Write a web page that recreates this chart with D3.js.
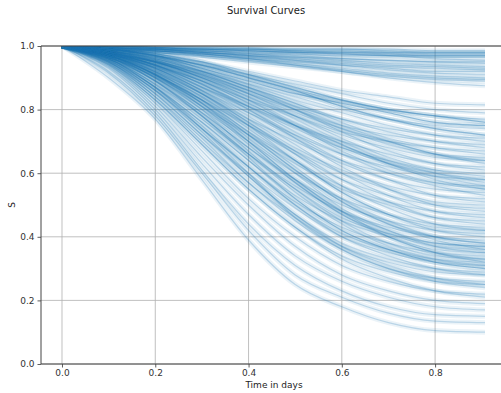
<!DOCTYPE html>
<html>
<head>
<meta charset="utf-8">
<script src="https://cdn.jsdelivr.net/npm/d3@7"></script>
<style>
  html, body { margin: 0; padding: 0; background: #fff; }
  svg { display: block; font-family: "DejaVu Sans", sans-serif; }
</style>
</head>
<body>
<svg id="chart" width="501" height="393"></svg>
<script>
// ---- data ----
const times = [0, 0.1, 0.2, 0.3, 0.4, 0.5, 0.6, 0.7, 0.8, 0.907];
const xTicks = [0.0, 0.2, 0.4, 0.6, 0.8];
const yTicks = [0.0, 0.2, 0.4, 0.6, 0.8, 1.0];

// upper cluster: curves that stay near 1
const curvesHigh = [
  [1, 1, 1, 1, 0.995, 0.99, 0.99, 0.985, 0.98, 0.98],
  [1, 1, 0.995, 0.99, 0.99, 0.985, 0.98, 0.98, 0.975, 0.975],
  [1, 0.995, 0.99, 0.985, 0.98, 0.975, 0.97, 0.97, 0.965, 0.965],
  [1, 1, 0.995, 0.99, 0.985, 0.98, 0.975, 0.97, 0.96, 0.955],
  [1, 0.995, 0.99, 0.98, 0.975, 0.97, 0.96, 0.955, 0.95, 0.945],
  [1, 1, 0.99, 0.985, 0.975, 0.965, 0.955, 0.945, 0.94, 0.935],
  [1, 0.995, 0.985, 0.975, 0.965, 0.955, 0.945, 0.935, 0.93, 0.925],
  [1, 0.995, 0.99, 0.98, 0.97, 0.955, 0.94, 0.925, 0.915, 0.91],
  [1, 0.99, 0.985, 0.975, 0.96, 0.945, 0.93, 0.915, 0.905, 0.9],
  [1, 0.995, 0.985, 0.97, 0.955, 0.94, 0.925, 0.91, 0.9, 0.895],
  [1, 1, 0.995, 0.99, 0.985, 0.98, 0.975, 0.97, 0.97, 0.97],
  [1, 0.995, 0.99, 0.98, 0.97, 0.96, 0.95, 0.94, 0.935, 0.93],
  [1, 0.99, 0.98, 0.965, 0.95, 0.935, 0.92, 0.905, 0.895, 0.89],
  [1, 1, 0.995, 0.99, 0.99, 0.985, 0.985, 0.98, 0.98, 0.98],
  [1, 0.995, 0.985, 0.975, 0.96, 0.94, 0.92, 0.9, 0.885, 0.875],
  [1, 1, 0.995, 0.995, 0.99, 0.99, 0.99, 0.99, 0.985, 0.985],
  [1, 0.995, 0.99, 0.99, 0.985, 0.98, 0.98, 0.975, 0.97, 0.97],
  [1, 0.995, 0.985, 0.98, 0.97, 0.965, 0.96, 0.955, 0.95, 0.95],
  [1, 0.99, 0.98, 0.97, 0.96, 0.95, 0.94, 0.93, 0.92, 0.92]
];
// intermediate curves
const curvesMid = [
  [1, 0.99, 0.97, 0.95, 0.92, 0.89, 0.86, 0.84, 0.82, 0.815],
  [1, 0.985, 0.965, 0.94, 0.91, 0.88, 0.85, 0.82, 0.8, 0.79],
  [1, 0.99, 0.97, 0.94, 0.9, 0.86, 0.83, 0.8, 0.78, 0.77],
  [1, 0.98, 0.95, 0.92, 0.88, 0.84, 0.8, 0.77, 0.75, 0.74],
  [1, 0.99, 0.975, 0.95, 0.91, 0.87, 0.83, 0.8, 0.78, 0.76],
  [1, 0.99, 0.97, 0.94, 0.9, 0.86, 0.81, 0.77, 0.74, 0.72],
  [1, 0.99, 0.97, 0.93, 0.89, 0.85, 0.82, 0.79, 0.76, 0.75]
];
// main mass
const curvesMain = [
  [1, 0.985, 0.955, 0.91, 0.86, 0.81, 0.77, 0.74, 0.72, 0.71],
  [1, 0.98, 0.95, 0.9, 0.85, 0.8, 0.75, 0.72, 0.7, 0.69],
  [1, 0.98, 0.94, 0.89, 0.83, 0.78, 0.73, 0.7, 0.68, 0.67],
  [1, 0.985, 0.95, 0.9, 0.84, 0.78, 0.72, 0.68, 0.65, 0.64],
  [1, 0.975, 0.93, 0.87, 0.81, 0.75, 0.7, 0.66, 0.63, 0.62],
  [1, 0.98, 0.94, 0.88, 0.81, 0.74, 0.68, 0.64, 0.61, 0.6],
  [1, 0.975, 0.93, 0.86, 0.79, 0.72, 0.66, 0.62, 0.59, 0.58],
  [1, 0.98, 0.94, 0.87, 0.79, 0.71, 0.64, 0.6, 0.57, 0.56],
  [1, 0.97, 0.92, 0.85, 0.77, 0.7, 0.63, 0.58, 0.55, 0.54],
  [1, 0.975, 0.93, 0.86, 0.77, 0.68, 0.61, 0.56, 0.53, 0.52],
  [1, 0.97, 0.91, 0.83, 0.75, 0.67, 0.6, 0.55, 0.51, 0.5],
  [1, 0.975, 0.92, 0.84, 0.75, 0.66, 0.58, 0.53, 0.5, 0.49],
  [1, 0.97, 0.91, 0.83, 0.73, 0.64, 0.56, 0.51, 0.48, 0.47],
  [1, 0.965, 0.9, 0.81, 0.72, 0.63, 0.55, 0.5, 0.46, 0.45],
  [1, 0.985, 0.96, 0.92, 0.87, 0.82, 0.77, 0.73, 0.7, 0.68],
  [1, 0.98, 0.95, 0.91, 0.86, 0.8, 0.74, 0.69, 0.66, 0.65],
  [1, 0.975, 0.94, 0.89, 0.82, 0.75, 0.68, 0.63, 0.6, 0.58],
  [1, 0.98, 0.95, 0.9, 0.83, 0.75, 0.67, 0.61, 0.57, 0.55],
  [1, 0.99, 0.97, 0.93, 0.89, 0.85, 0.82, 0.79, 0.76, 0.75],
  [1, 0.985, 0.96, 0.93, 0.88, 0.83, 0.79, 0.75, 0.72, 0.7],
  [1, 0.99, 0.965, 0.92, 0.87, 0.82, 0.76, 0.71, 0.68, 0.66],
  [1, 0.985, 0.955, 0.91, 0.85, 0.79, 0.74, 0.7, 0.66, 0.63],
  [1, 0.99, 0.96, 0.915, 0.86, 0.8, 0.73, 0.67, 0.63, 0.61],
  [1, 0.98, 0.95, 0.9, 0.84, 0.77, 0.7, 0.64, 0.6, 0.57],
  [1, 0.985, 0.95, 0.89, 0.82, 0.75, 0.69, 0.63, 0.58, 0.55],
  [1, 0.98, 0.94, 0.88, 0.81, 0.73, 0.66, 0.6, 0.56, 0.53],
  [1, 0.975, 0.935, 0.87, 0.8, 0.72, 0.64, 0.58, 0.53, 0.51],
  [1, 0.98, 0.94, 0.88, 0.8, 0.71, 0.62, 0.55, 0.5, 0.48],
  [1, 0.975, 0.93, 0.86, 0.78, 0.69, 0.6, 0.53, 0.48, 0.46],
  [1, 0.97, 0.92, 0.85, 0.76, 0.67, 0.58, 0.51, 0.46, 0.44],
  [1, 0.99, 0.975, 0.95, 0.91, 0.87, 0.83, 0.8, 0.78, 0.76],
  [1, 0.99, 0.97, 0.94, 0.9, 0.86, 0.81, 0.77, 0.74, 0.72],
  [1, 0.985, 0.96, 0.92, 0.87, 0.81, 0.75, 0.7, 0.66, 0.64],
  [1, 0.98, 0.95, 0.905, 0.85, 0.78, 0.71, 0.65, 0.61, 0.59],
  [1, 0.975, 0.94, 0.89, 0.83, 0.76, 0.69, 0.63, 0.59, 0.56]
];
// lower mass
const curvesLow = [
  [1, 0.97, 0.9, 0.8, 0.7, 0.6, 0.52, 0.47, 0.44, 0.43],
  [1, 0.965, 0.89, 0.79, 0.68, 0.58, 0.5, 0.45, 0.42, 0.41],
  [1, 0.96, 0.88, 0.77, 0.66, 0.56, 0.48, 0.43, 0.4, 0.39],
  [1, 0.965, 0.89, 0.78, 0.66, 0.55, 0.46, 0.41, 0.38, 0.37],
  [1, 0.96, 0.87, 0.76, 0.64, 0.53, 0.45, 0.4, 0.36, 0.35],
  [1, 0.955, 0.86, 0.74, 0.62, 0.51, 0.43, 0.38, 0.35, 0.34],
  [1, 0.96, 0.87, 0.75, 0.62, 0.5, 0.41, 0.36, 0.33, 0.32],
  [1, 0.95, 0.85, 0.72, 0.6, 0.49, 0.4, 0.35, 0.32, 0.31],
  [1, 0.955, 0.86, 0.73, 0.59, 0.47, 0.38, 0.33, 0.3, 0.29],
  [1, 0.95, 0.84, 0.71, 0.57, 0.46, 0.37, 0.32, 0.29, 0.28],
  [1, 0.975, 0.92, 0.83, 0.72, 0.61, 0.51, 0.44, 0.4, 0.38],
  [1, 0.97, 0.91, 0.81, 0.69, 0.57, 0.47, 0.41, 0.37, 0.36],
  [1, 0.97, 0.9, 0.8, 0.67, 0.55, 0.45, 0.38, 0.34, 0.33],
  [1, 0.965, 0.89, 0.78, 0.65, 0.52, 0.42, 0.36, 0.32, 0.3],
  [1, 0.98, 0.93, 0.85, 0.75, 0.64, 0.54, 0.47, 0.43, 0.42],
  [1, 0.975, 0.91, 0.82, 0.7, 0.58, 0.48, 0.42, 0.38, 0.37],
  [1, 0.975, 0.925, 0.85, 0.76, 0.66, 0.56, 0.49, 0.44, 0.42],
  [1, 0.97, 0.915, 0.84, 0.74, 0.64, 0.54, 0.47, 0.42, 0.4],
  [1, 0.97, 0.91, 0.83, 0.73, 0.62, 0.52, 0.45, 0.4, 0.38],
  [1, 0.965, 0.905, 0.82, 0.72, 0.61, 0.51, 0.44, 0.39, 0.36],
  [1, 0.97, 0.91, 0.82, 0.71, 0.6, 0.49, 0.42, 0.37, 0.35],
  [1, 0.965, 0.9, 0.81, 0.7, 0.58, 0.48, 0.4, 0.35, 0.33],
  [1, 0.96, 0.89, 0.79, 0.68, 0.57, 0.47, 0.4, 0.35, 0.32]
];
// lowest curves
const curvesBottom = [
  [1, 0.945, 0.83, 0.69, 0.55, 0.43, 0.34, 0.29, 0.26, 0.25],
  [1, 0.94, 0.82, 0.67, 0.52, 0.4, 0.31, 0.26, 0.23, 0.22],
  [1, 0.935, 0.81, 0.65, 0.5, 0.37, 0.28, 0.23, 0.2, 0.19],
  [1, 0.93, 0.8, 0.63, 0.47, 0.34, 0.26, 0.21, 0.18, 0.17],
  [1, 0.92, 0.79, 0.61, 0.44, 0.31, 0.23, 0.18, 0.155, 0.15],
  [1, 0.915, 0.78, 0.6, 0.42, 0.28, 0.21, 0.16, 0.135, 0.13],
  [1, 0.9, 0.77, 0.58, 0.39, 0.25, 0.18, 0.13, 0.105, 0.1],
  [1, 0.96, 0.87, 0.74, 0.6, 0.46, 0.36, 0.3, 0.27, 0.26],
  [1, 0.96, 0.88, 0.78, 0.66, 0.54, 0.44, 0.37, 0.33, 0.31],
  [1, 0.955, 0.87, 0.76, 0.64, 0.52, 0.42, 0.36, 0.32, 0.3],
  [1, 0.95, 0.86, 0.74, 0.62, 0.5, 0.4, 0.34, 0.3, 0.28],
  [1, 0.95, 0.85, 0.72, 0.59, 0.47, 0.37, 0.31, 0.27, 0.25],
  [1, 0.945, 0.84, 0.7, 0.57, 0.45, 0.36, 0.3, 0.26, 0.24],
  [1, 0.94, 0.83, 0.69, 0.55, 0.43, 0.33, 0.27, 0.23, 0.21]
];

// ---- drawing ----
const svg = d3.select("#chart");
const W = 501, H = 393;
const x = d3.scaleLinear().domain([-0.045, 0.952]).range([41, 506]);
const y = d3.scaleLinear().domain([0, 1]).range([364, 46]);
const color = "#1f77b4";

svg.append("text")
  .attr("x", 266).attr("y", 14)
  .attr("text-anchor", "middle")
  .attr("font-size", 10).attr("fill", "#222")
  .text("Survival Curves");

svg.append("defs").append("clipPath").attr("id", "plotclip")
  .append("rect").attr("x", 41).attr("y", 46)
  .attr("width", x(times[times.length - 1]) - 41).attr("height", 318);

// grid
const grid = svg.append("g");
grid.selectAll("line.vx").data(xTicks).join("line")
  .attr("x1", d => x(d)).attr("x2", d => x(d))
  .attr("y1", y(0)).attr("y2", y(1))
  .attr("stroke", "#b0b0b0").attr("stroke-width", 0.8);
grid.selectAll("line.hy").data(yTicks).join("line")
  .attr("x1", 41).attr("x2", W)
  .attr("y1", d => y(d)).attr("y2", d => y(d))
  .attr("stroke", "#b0b0b0").attr("stroke-width", 0.8);

// curves
const allCurves = [].concat(curvesHigh, curvesMid, curvesMain, curvesLow, curvesBottom);
const line = d3.line()
  .x((d, i) => x(times[i]))
  .y(d => y(d))
  .curve(d3.curveMonotoneX);
const cg = svg.append("g").attr("clip-path", "url(#plotclip)");
cg.selectAll("path.haze").data(allCurves).join("path")
  .attr("class", "haze")
  .attr("d", line)
  .attr("fill", "none")
  .attr("stroke", color)
  .attr("stroke-opacity", 0.09)
  .attr("stroke-width", 5);
cg.selectAll("path.crv").data(allCurves).join("path")
  .attr("class", "crv")
  .attr("d", line)
  .attr("fill", "none")
  .attr("stroke", color)
  .attr("stroke-opacity", 0.24)
  .attr("stroke-width", 1.2);

// axes
const xAxis = d3.axisBottom(x).tickValues(xTicks).tickFormat(d3.format(".1f")).tickSizeOuter(0).tickSize(3.5).tickPadding(2);
const yAxis = d3.axisLeft(y).tickValues(yTicks).tickFormat(d3.format(".1f")).tickSizeOuter(0).tickSize(3.5).tickPadding(3);
const gx = svg.append("g").attr("transform", `translate(0,${y(0)})`).call(xAxis);
const gy = svg.append("g").attr("transform", `translate(41,0)`).call(yAxis);
[gx, gy].forEach(g => {
  g.select(".domain").remove();
  g.selectAll(".tick line").attr("stroke", "#333").attr("stroke-width", 0.8);
  g.selectAll(".tick text").attr("fill", "#333").attr("font-size", 9)
    .attr("font-family", "DejaVu Sans, sans-serif");
});

// spines
svg.append("line").attr("x1", 41).attr("x2", W).attr("y1", y(1)).attr("y2", y(1)).attr("stroke", "#444").attr("stroke-width", 1);
svg.append("line").attr("x1", 41).attr("x2", W).attr("y1", y(0)).attr("y2", y(0)).attr("stroke", "#444").attr("stroke-width", 1);
svg.append("line").attr("x1", 41).attr("x2", 41).attr("y1", y(0)).attr("y2", y(1)).attr("stroke", "#444").attr("stroke-width", 1);

// axis labels
svg.append("text").attr("x", 274).attr("y", 388)
  .attr("text-anchor", "middle").attr("font-size", 9).attr("fill", "#222")
  .text("Time in days");
svg.append("text")
  .attr("transform", `translate(15,205) rotate(-90)`)
  .attr("text-anchor", "middle").attr("font-size", 9).attr("fill", "#222")
  .text("S");
</script>
</body>
</html>
